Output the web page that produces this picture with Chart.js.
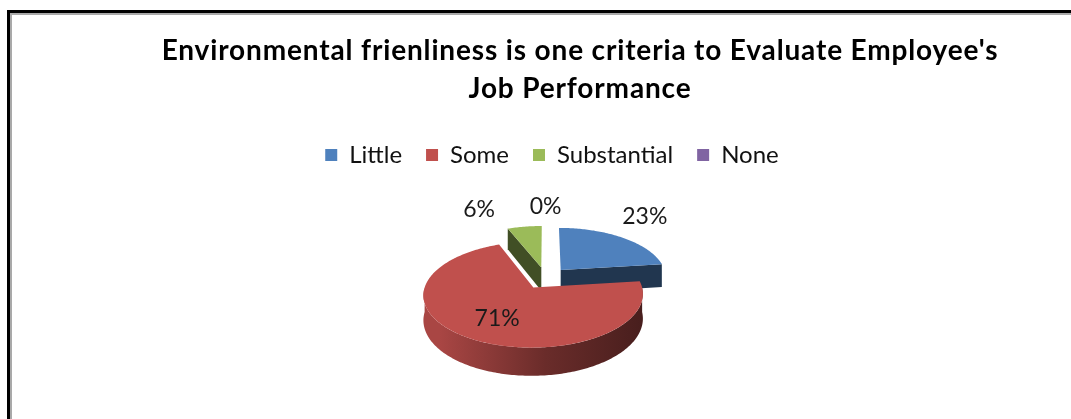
<!DOCTYPE html>
<html>
<head>
<meta charset="utf-8">
<script src="https://cdn.jsdelivr.net/npm/chart.js@4/dist/chart.umd.min.js"></script>
<style>
  html, body { margin: 0; padding: 0; background: #fff; }
  body { width: 1071px; height: 419px; overflow: hidden; position: relative; font-family: Lato, sans-serif; }
  .frame { position: absolute; left: 7px; top: 10px; width: 1120px; height: 460px;
           border-left: 3px solid #000; border-top: 3px solid #000; }
  .frame::after { content: ''; position: absolute; left: 0; top: 0; right: 0; bottom: 0;
                  border-left: 2px solid #a9a9a9; border-top: 2px solid #a9a9a9; }
  .title { position: absolute; left: 0; top: 30px; width: 1160px; text-align: center;
           font: bold 28px Lato, sans-serif; letter-spacing: 0.85px; line-height: 38px; color: #000; }
  #chart { position: absolute; left: 0; top: 0; }
</style>
</head>
<body>
<div class="frame"></div>
<canvas id="chart" width="1071" height="419"></canvas>
<div class="title">Environmental frienliness is one criteria to Evaluate Employee's<br>Job Performance</div>
<script>
const categories = ['Little', 'Some', 'Substantial', 'None'];
const shares = [23, 71, 6, 0];
const sliceColors = ['#4F81BD', '#C0504D', '#9BBB59', '#8064A2'];

// tilt / perspective of the 3D pie, in units of the pie radius
const view = { sx: 1.02, sy: 0.476, depth: 0.229, persp: 0.13, explode: 0.22, shiftX: -0.062, shiftY: -0.029 };
// where each percentage sits: distance from slice centre and turn off the mid angle (deg)
const labelRadius = [1.63, 0.63, 1.63, 1.55];
const labelTurn = [-4.9, -2.1, -15.5, 0];

function shade(hex, f) {
  const n = parseInt(hex.slice(1), 16);
  const r = Math.round(((n >> 16) & 255) * f), g = Math.round(((n >> 8) & 255) * f), b = Math.round((n & 255) * f);
  return `rgb(${r},${g},${b})`;
}

function projector(cx, cy, R) {
  const x0 = cx + view.shiftX * R, y0 = cy + view.shiftY * R;
  return (px, pz, h) => {
    const w = 1 / (1 + view.persp * pz);
    return [x0 + R * view.sx * px * w, y0 + R * (-view.sy * pz + view.depth * h) * w];
  };
}

function poly(ctx, pts, fill) {
  ctx.beginPath();
  pts.forEach((p, i) => i ? ctx.lineTo(p[0], p[1]) : ctx.moveTo(p[0], p[1]));
  ctx.closePath();
  ctx.fillStyle = fill;
  ctx.fill();
}

function arcPoints(P, ox, oz, a0, a1, h) {
  const pts = [];
  const steps = Math.max(2, Math.ceil(Math.abs(a1 - a0) / (Math.PI / 180)));
  for (let i = 0; i <= steps; i++) {
    const a = a0 + (a1 - a0) * i / steps;
    pts.push(P(ox + Math.cos(a), oz - Math.sin(a), h));
  }
  return pts;
}

const pie3d = {
  id: 'pie3d',
  beforeDatasetsDraw(chart) {
    const ctx = chart.ctx;
    const arcs = chart.getDatasetMeta(0).data;
    const first = arcs[0];
    const P = projector(first.x, first.y, first.outerRadius);

    const slices = arcs.map((arc, i) => {
      const mid = (arc.startAngle + arc.endAngle) / 2;
      return { i, a0: arc.startAngle, a1: arc.endAngle,
               ox: view.explode * Math.cos(mid), oz: -view.explode * Math.sin(mid) };
    }).filter(s => s.a1 - s.a0 > 1e-6)
      .sort((p, q) => q.oz - p.oz);

    const left = P(-1, 0, 1)[0], right = P(1, 0, 1)[0];

    slices.forEach(s => {
      const base = sliceColors[s.i];
      const c0 = P(s.ox, s.oz, 0), c1 = P(s.ox, s.oz, 1);

      // outer rim, only the part turned towards the viewer
      const f0 = Math.max(s.a0, 0), f1 = Math.min(s.a1, Math.PI);
      if (f1 > f0) {
        const top = arcPoints(P, s.ox, s.oz, f0, f1, 0);
        const bottom = arcPoints(P, s.ox, s.oz, f0, f1, 1).reverse();
        const grad = ctx.createLinearGradient(left, 0, right, 0);
        grad.addColorStop(0, shade(base, 0.88));
        grad.addColorStop(0.5, shade(base, 0.55));
        grad.addColorStop(1, shade(base, 0.36));
        poly(ctx, top.concat(bottom), grad);
      }

      // cut faces at the slice edges
      const edge = a => {
        const t = P(s.ox + Math.cos(a), s.oz - Math.sin(a), 0);
        const b = P(s.ox + Math.cos(a), s.oz - Math.sin(a), 1);
        poly(ctx, [c0, t, b, c1], shade(base, 0.42));
      };
      if (Math.cos(s.a0) < -1e-6) edge(s.a0);
      if (Math.cos(s.a1) > 1e-6) edge(s.a1);

      // top face
      poly(ctx, [c0].concat(arcPoints(P, s.ox, s.oz, s.a0, s.a1, 0)), base);
    });

    // percentage labels
    ctx.save();
    ctx.font = '23px Lato, sans-serif';
    ctx.fillStyle = '#1a1a1a';
    ctx.textAlign = 'center';
    ctx.textBaseline = 'middle';
    arcs.forEach((arc, i) => {
      const mid = (arc.startAngle + arc.endAngle) / 2;
      const ox = view.explode * Math.cos(mid), oz = -view.explode * Math.sin(mid);
      const a = mid + labelTurn[i] * Math.PI / 180;
      const p = P(ox + labelRadius[i] * Math.cos(a), oz - labelRadius[i] * Math.sin(a), 0);
      ctx.fillText(shares[i] + '%', p[0], p[1]);
    });
    ctx.restore();
    return false;
  }
};

new Chart(document.getElementById('chart'), {
  type: 'pie',
  data: {
    labels: categories,
    datasets: [{ data: shares, backgroundColor: sliceColors, borderWidth: 0 }]
  },
  options: {
    responsive: false,
    animation: false,
    layout: { padding: { left: 33, right: 0, top: 119, bottom: 34 } },
    plugins: {
      legend: {
        position: 'top',
        labels: { font: { family: 'Lato', size: 24 }, color: '#111', boxWidth: 12, boxHeight: 12, padding: 24 }
      },
      tooltip: { enabled: false }
    }
  },
  plugins: [pie3d]
});
</script>
</body>
</html>
